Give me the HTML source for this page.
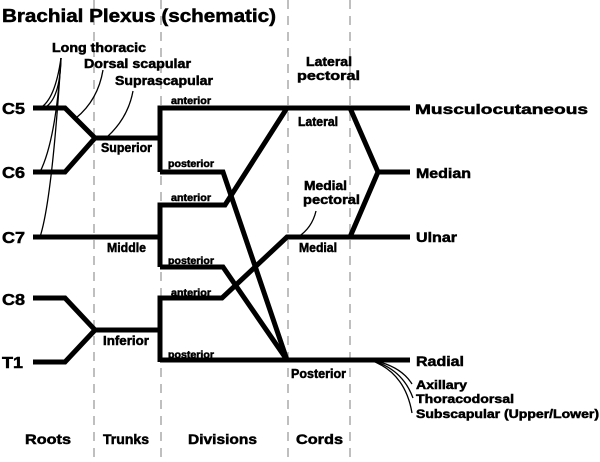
<!DOCTYPE html>
<html><head><style>body{margin:0;background:#fff}svg{display:block}text{font-family:"Liberation Sans",sans-serif;font-weight:bold;fill:#000;stroke:#000;stroke-width:0.5}</style></head><body>
<svg width="600" height="462" viewBox="0 0 600 462">
<g stroke="#aaa" stroke-width="1.5" stroke-dasharray="9,7">
<line x1="94" y1="0" x2="94" y2="462"/><line x1="161" y1="0" x2="161" y2="462"/><line x1="288" y1="0" x2="288" y2="462"/><line x1="350" y1="0" x2="350" y2="462"/>
</g>
<g stroke="#000" stroke-width="5" fill="none" stroke-linejoin="miter">
<polyline points="33,108 65,108 95,138 160,138"/>
<polyline points="33,172 65,172 95,138"/>
<polyline points="160,172 160,108 410,108"/>
<polyline points="160,172 223,172 287,360"/>
<line x1="33" y1="237" x2="160" y2="237"/>
<polyline points="160,267 160,205 225,205 287,108"/>
<polyline points="160,267 223,267 287,360"/>
<polyline points="33,298 65,298 95,330 160,330"/>
<polyline points="33,362 65,362 95,330"/>
<polyline points="160,362 160,298 222,298 287,237 410,237"/>
<line x1="160" y1="360" x2="410" y2="360"/>
<polyline points="350,108 378,172 350,237"/>
<line x1="378" y1="172" x2="410" y2="172"/>
</g>
<g stroke="#000" stroke-width="1.3" fill="none">
<path d="M61,58 Q55,100 40,108"/><path d="M61,58 Q56,140 40,172"/><path d="M61,58 Q52,200 40,237"/>
<path d="M61,58 Q60,100 44,108"/>
<path d="M103,70 Q98,100 76,118"/>
<path d="M133,91 Q128,118 107,137"/>
<path d="M316,211 Q312,228 298,237"/>
<path d="M370,360 Q400,365 412,384"/><path d="M370,360 Q402,368 413,398"/><path d="M370,360 Q405,372 412,413"/>
</g>
<g lengthAdjust="spacingAndGlyphs">
<text x="2" y="22" font-size="18" textLength="274" lengthAdjust="spacingAndGlyphs">Brachial Plexus (schematic)</text>
<g font-size="13"><text x="52" y="52" textLength="94" lengthAdjust="spacingAndGlyphs">Long thoracic</text><text x="84" y="68" textLength="107" lengthAdjust="spacingAndGlyphs">Dorsal scapular</text><text x="115" y="85" textLength="98" lengthAdjust="spacingAndGlyphs">Suprascapular</text>
<text x="101" y="152" textLength="51" lengthAdjust="spacingAndGlyphs">Superior</text><text x="107" y="252" textLength="39" lengthAdjust="spacingAndGlyphs">Middle</text><text x="103" y="345" textLength="46" lengthAdjust="spacingAndGlyphs">Inferior</text>
<text x="306" y="66" textLength="46" lengthAdjust="spacingAndGlyphs">Lateral</text><text x="297" y="80" textLength="63" lengthAdjust="spacingAndGlyphs">pectoral</text>
<text x="304" y="190" textLength="43" lengthAdjust="spacingAndGlyphs">Medial</text><text x="303" y="204" textLength="57" lengthAdjust="spacingAndGlyphs">pectoral</text>
<text x="298" y="126" textLength="40" lengthAdjust="spacingAndGlyphs">Lateral</text><text x="299" y="252" textLength="38" lengthAdjust="spacingAndGlyphs">Medial</text><text x="291" y="378" textLength="55" lengthAdjust="spacingAndGlyphs">Posterior</text></g>
<g font-size="10" style="stroke-width:0.3"><text x="171" y="104" textLength="40" lengthAdjust="spacingAndGlyphs">anterior</text><text x="168" y="167" textLength="46" lengthAdjust="spacingAndGlyphs">posterior</text><text x="171" y="201" textLength="40" lengthAdjust="spacingAndGlyphs">anterior</text><text x="168" y="264" textLength="46" lengthAdjust="spacingAndGlyphs">posterior</text><text x="171" y="296" textLength="40" lengthAdjust="spacingAndGlyphs">anterior</text><text x="168" y="358" textLength="46" lengthAdjust="spacingAndGlyphs">posterior</text></g>
<g font-size="16"><text x="2" y="114" textLength="23" lengthAdjust="spacingAndGlyphs">C5</text><text x="2" y="178" textLength="23" lengthAdjust="spacingAndGlyphs">C6</text><text x="2" y="243" textLength="23" lengthAdjust="spacingAndGlyphs">C7</text><text x="2" y="305" textLength="23" lengthAdjust="spacingAndGlyphs">C8</text><text x="2" y="368" textLength="21" lengthAdjust="spacingAndGlyphs">T1</text></g>
<g font-size="14"><text x="415" y="114" textLength="173" lengthAdjust="spacingAndGlyphs">Musculocutaneous</text><text x="416" y="178" textLength="55" lengthAdjust="spacingAndGlyphs">Median</text><text x="416" y="242" textLength="41" lengthAdjust="spacingAndGlyphs">Ulnar</text><text x="416" y="366" textLength="48" lengthAdjust="spacingAndGlyphs">Radial</text></g>
<g font-size="12"><text x="416" y="389" textLength="51" lengthAdjust="spacingAndGlyphs">Axillary</text><text x="416" y="403" textLength="98" lengthAdjust="spacingAndGlyphs">Thoracodorsal</text><text x="416" y="418" textLength="183" lengthAdjust="spacingAndGlyphs">Subscapular (Upper/Lower)</text></g>
<g font-size="14"><text x="25" y="444" textLength="46" lengthAdjust="spacingAndGlyphs">Roots</text><text x="103" y="444" textLength="46" lengthAdjust="spacingAndGlyphs">Trunks</text><text x="188" y="444" textLength="69" lengthAdjust="spacingAndGlyphs">Divisions</text><text x="296" y="444" textLength="47" lengthAdjust="spacingAndGlyphs">Cords</text></g>
</g>
</svg></body></html>
